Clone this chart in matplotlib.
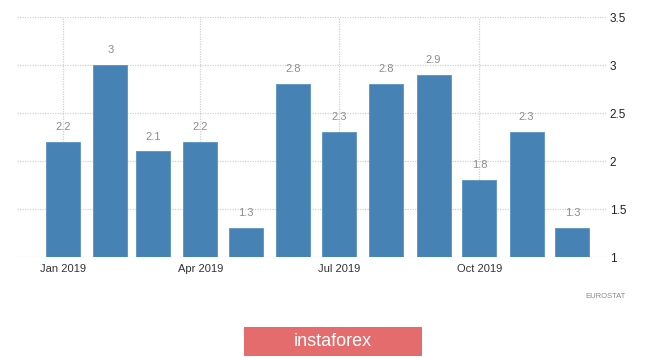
import matplotlib
matplotlib.use("Agg")
import matplotlib.pyplot as plt
import matplotlib.dates as mdates
from matplotlib.patches import Rectangle
import datetime as dt

months = ["2019-01", "2019-02", "2019-03", "2019-04", "2019-05", "2019-06",
          "2019-07", "2019-08", "2019-09", "2019-10", "2019-11", "2019-12"]
values = [2.2, 3.0, 2.1, 2.2, 1.3, 2.8, 2.3, 2.8, 2.9, 1.8, 2.3, 1.3]
labels = ["2.2", "3", "2.1", "2.2", "1.3", "2.8", "2.3", "2.8", "2.9", "1.8", "2.3", "1.3"]
xtick_months = ["2019-01", "2019-04", "2019-07", "2019-10"]
xtick_labels = ["Jan 2019", "Apr 2019", "Jul 2019", "Oct 2019"]
yticks = [1, 1.5, 2, 2.5, 3, 3.5]
ytick_labels = ["1", "1.5", "2", "2.5", "3", "3.5"]
source = "EUROSTAT"
logo = "instaforex"

plt.rcParams['font.family'] = ['Liberation Sans', 'DejaVu Sans']

def to_date(s):
    y, m = s.split("-")
    return dt.datetime(int(y), int(m), 1)

xd = [mdates.date2num(to_date(m)) for m in months]
xt = [mdates.date2num(to_date(m)) for m in xtick_months]
base = mdates.date2num(dt.datetime(2019, 1, 1))

fig = plt.figure(figsize=(6.65, 3.58), dpi=100)
ax = fig.add_axes([17/665, 1-257/358, (607-17)/665, (257-17)/358])

bottom = 1.0
ax.bar(xd, [v - bottom for v in values], bottom=bottom, width=22.3,
       color="#4682b4", edgecolor="#5b93c2", linewidth=0.6, zorder=3)
for x, v, l in zip(xd, values, labels):
    ax.annotate(l, (x, v), xytext=(0, 7), textcoords="offset points",
                ha="center", va="bottom", fontsize=8, color="#8c8c8c")

ax.set_xlim(base - 30.2, base + 356.7)
ax.set_ylim(1, 3.5)
ax.set_xticks(xt)
ax.set_xticklabels(xtick_labels, fontsize=8, color="#333333")
ax.yaxis.tick_right()
ax.set_yticks(yticks)
ax.set_yticklabels(ytick_labels, fontsize=8.5, color="#222222")
ax.tick_params(axis="both", length=0)
ax.tick_params(axis="x", pad=5)
ax.tick_params(axis="y", pad=2)
for s in ax.spines.values():
    s.set_visible(False)
ax.grid(True, axis="both", color="#d0d0d0", linestyle=(0, (1, 1)), linewidth=0.9, zorder=0)
ax.set_axisbelow(True)

fig.text(605/665, 1-296/358, source, fontsize=5.5, color="#888888", ha="center", va="center")

# logo
fig.patches.append(Rectangle((244/665, 1-356/358), (422-244)/665, (356-327)/358,
                             transform=fig.transFigure, facecolor="#e46c6c",
                             edgecolor="none"))
fig.text(333/665, 1-341/358, logo, fontsize=13, color="white", ha="center", va="center")

fig.savefig("out.png", dpi=100)
